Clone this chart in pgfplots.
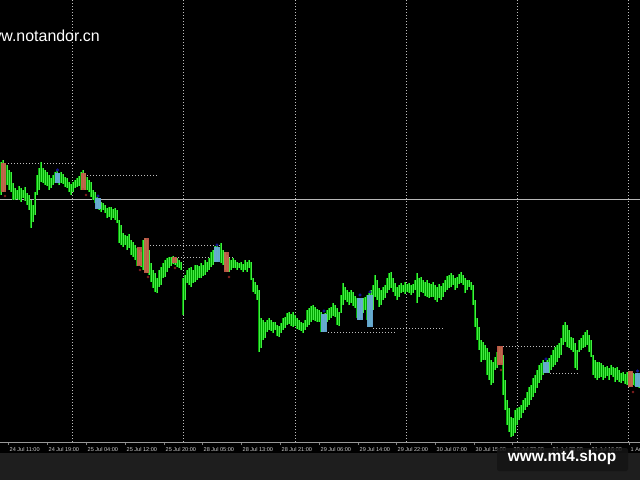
\documentclass[border=0pt]{standalone}
\usepackage{pgfplots}
\usepackage{pgfplotstable}
\pgfplotsset{compat=1.18}
\usepackage{fontspec}
\setmainfont{Liberation Sans}
\definecolor{cgreen}{RGB}{0,165,0}
\definecolor{clight}{RGB}{70,235,70}
\definecolor{cred}{RGB}{205,92,78}
\definecolor{cblue}{RGB}{105,170,215}
\definecolor{cgridc}{RGB}{190,190,190}
\definecolor{cstrip}{RGB}{30,30,30}
\pgfplotstableread{
x a b
1 162 195
3 160 192
5 163 190
7 165 185
9 170 190
11 172 192
13 183 200
15 188 200
17 190 199
19 186 200
21 188 202
23 190 198
25 187 201
27 193 205
29 195 210
31 200 228
33 205 222
35 192 215
37 175 195
39 168 190
41 162 182
43 168 183
45 170 185
47 172 186
49 175 190
51 178 188
53 175 185
55 172 183
57 170 180
59 173 185
61 172 183
63 174 184
65 177 187
67 178 188
69 182 192
71 184 195
73 182 192
75 180 188
77 178 187
79 176 186
81 172 190
83 170 188
85 173 190
87 177 190
89 180 192
91 182 197
93 190 200
95 192 203
97 197 208
99 198 210
101 202 212
103 203 210
105 205 213
107 208 218
109 207 217
111 207 220
113 209 218
115 208 220
117 210 223
119 220 243
121 225 245
123 233 247
125 235 245
127 236 250
129 234 248
131 240 255
133 242 257
135 245 260
137 248 266
139 250 265
141 252 267
143 240 270
145 238 272
147 240 273
149 250 275
151 263 282
153 270 288
155 273 292
157 278 293
159 270 287
161 267 285
163 263 278
165 260 277
167 258 272
169 257 268
171 257 266
173 256 264
175 258 265
177 258 267
179 260 268
181 262 270
183 278 315
185 275 300
187 270 283
189 268 285
191 267 287
193 270 283
195 265 282
197 265 280
199 266 278
201 263 278
203 265 276
205 260 275
207 262 272
209 258 270
211 252 267
213 250 265
215 246 262
217 245 262
219 247 260
221 243 263
223 250 265
225 252 270
227 255 272
229 258 272
231 260 270
233 258 268
235 260 268
237 262 270
239 263 268
241 262 270
243 264 272
245 260 270
247 262 272
249 260 268
251 262 280
253 278 292
255 282 294
257 285 300
259 290 352
261 318 348
263 320 340
265 322 338
267 320 332
269 318 330
271 320 331
273 322 333
275 322 330
277 325 336
279 326 337
281 323 333
283 318 330
285 317 328
287 313 325
289 312 324
291 314 326
293 312 327
295 315 326
297 318 329
299 320 330
301 322 331
303 323 333
305 320 330
307 310 327
309 308 325
311 306 322
313 305 320
315 307 321
317 309 322
319 310 322
321 312 332
323 314 332
325 313 330
327 310 322
329 308 320
331 307 318
333 303 316
335 305 317
337 308 325
339 312 326
341 295 313
343 283 305
345 287 300
347 290 302
349 292 305
351 290 303
353 292 306
355 296 308
357 298 318
359 298 320
361 300 318
363 298 313
365 297 310
367 295 320
369 293 327
371 290 325
373 285 310
375 275 297
377 280 300
379 288 307
381 290 305
383 287 300
385 285 298
387 278 293
389 273 290
391 272 288
393 278 292
395 283 296
397 287 300
399 285 297
401 283 293
403 285 292
405 282 294
407 284 292
409 283 293
411 285 295
413 284 293
415 280 290
417 273 303
419 278 297
421 277 292
423 280 293
425 282 296
427 280 297
429 283 298
431 284 297
433 282 297
435 285 300
437 287 302
439 284 298
441 286 300
443 283 297
445 280 292
447 276 290
449 275 288
451 273 287
453 275 285
455 278 290
457 277 288
459 274 284
461 272 283
463 275 285
465 278 293
467 280 290
469 280 287
471 282 290
473 285 305
475 300 327
477 318 340
479 327 350
481 340 362
483 342 360
485 345 360
487 348 375
489 352 380
491 360 385
493 362 383
495 357 370
497 352 368
499 346 365
501 347 363
503 355 395
505 380 410
507 400 425
509 408 432
511 417 437
513 418 436
515 410 433
517 408 425
519 407 420
521 405 418
523 400 413
525 398 410
527 392 407
529 387 405
531 385 400
533 378 397
535 375 393
537 370 388
539 365 383
541 363 380
543 360 375
545 362 373
547 360 372
549 358 373
551 355 370
553 350 367
555 347 365
557 345 362
559 343 358
561 338 355
563 325 345
565 322 342
567 325 347
569 330 348
571 337 350
573 338 352
575 343 368
577 350 370
579 340 352
581 338 350
583 335 348
585 332 347
587 330 345
589 335 352
591 340 357
593 355 375
595 360 378
597 362 380
599 362 378
601 363 377
603 365 380
605 367 378
607 366 376
609 368 380
611 365 375
613 367 377
615 368 382
617 367 380
619 370 382
621 373 383
623 372 381
625 374 384
627 372 385
629 371 387
631 372 386
633 373 385
635 374 386
637 373 387
639 375 388
}\pricedata
\pgfplotstableread{
x a b
3.5 163 192
83.5 173 190
139.5 247 266
146.5 238 273
174.5 257 263
226.5 252 272
500 346 365
630.5 371 387
}\reddata
\pgfplotstableread{
x a b
57.5 173 183
98 198 209
217 247 262
324 314 332
360 298 320
370 295 327
546 362 373
637.5 373 387
}\bluedata
\begin{document}
\begin{tikzpicture}
\useasboundingbox (0,-38bp) rectangle (640bp,442bp);
\fill[black] (0,-11bp) rectangle (640bp,442bp);
\fill[cstrip] (0,-38bp) rectangle (640bp,-11bp);
\begin{axis}[
  at={(0,0)}, anchor=south west,
  scale only axis, width=640bp, height=442bp,
  xmin=0, xmax=640, ymin=0, ymax=442,
  axis line style={draw=none},
  ytick=\empty,
  xtick={8,47,86,125,164,202,241,280,319,358,396,435,474,512,551,590,629},
  xticklabels={24 Jul 11:00,24 Jul 19:00,25 Jul 04:00,25 Jul 12:00,25 Jul 20:00,28 Jul 05:00,28 Jul 13:00,28 Jul 21:00,29 Jul 06:00,29 Jul 14:00,29 Jul 22:00,30 Jul 07:00,30 Jul 15:00,30 Jul 23:00,31 Jul 08:00,31 Jul 16:00,1 Aug 00:00},
  xtick pos=left, tick align=outside, major tick length=3bp,
  xtick style={draw=gray, line width=0.6bp},
  xticklabel style={anchor=north west, inner sep=0pt, xshift=1.5bp, yshift=-2bp, font=\fontsize{5.6}{6}\selectfont, text=white!80!black},
  clip=true,
]
% grid
\foreach \gx in {72,183,295,406,517,628}{
  \edef\tmp{\noexpand\draw[cgridc, line width=0.8bp, dash pattern=on 1bp off 2bp] (axis cs:\gx,0) -- (axis cs:\gx,442);}\tmp
}
\draw[white!72!black, line width=0.9bp] (axis cs:0,243) -- (axis cs:640,243);
% level lines
\addplot[cgridc, line width=0.8bp, dash pattern=on 1bp off 2bp] coordinates {(5,279) (77,279)};
\addplot[cgridc, line width=0.8bp, dash pattern=on 1bp off 2bp] coordinates {(87,267) (157,267)};
\addplot[cgridc, line width=0.8bp, dash pattern=on 1bp off 2bp] coordinates {(150,197) (220,197)};
\addplot[cgridc, line width=0.8bp, dash pattern=on 1bp off 2bp] coordinates {(175,185) (235,185)};
\addplot[cgridc, line width=0.8bp, dash pattern=on 1bp off 2bp] coordinates {(328,110) (397,110)};
\addplot[cgridc, line width=0.8bp, dash pattern=on 1bp off 2bp] coordinates {(373,114) (443,114)};
\addplot[cgridc, line width=0.8bp, dash pattern=on 1bp off 2bp] coordinates {(503,96) (560,96)};
\addplot[cgridc, line width=0.8bp, dash pattern=on 1bp off 2bp] coordinates {(550,69) (578,69)};
% candles
\addplot[draw=none, mark=none, error bars/.cd, y dir=both, y explicit, error mark=none,
  error bar style={draw=cgreen, line width=1.4bp}]
  table[x=x, y expr={442-(\thisrow{a}+\thisrow{b})/2}, y error expr={(\thisrow{b}-\thisrow{a})/2}] {\pricedata};
\addplot[draw=none, mark=none, error bars/.cd, y dir=both, y explicit, error mark=none,
  error bar style={draw=clight, line width=0.5bp}]
  table[x=x, y expr={442-(\thisrow{a}+\thisrow{b})/2}, y error expr={(\thisrow{b}-\thisrow{a})/2}] {\pricedata};
% highlighted candles
\addplot[draw=none, mark=none, error bars/.cd, y dir=both, y explicit, error mark=none,
  error bar style={draw=cred, line width=5.5bp, opacity=0.9}]
  table[x=x, y expr={442-(\thisrow{a}+\thisrow{b})/2}, y error expr={(\thisrow{b}-\thisrow{a})/2}] {\reddata};
\addplot[draw=none, mark=none, error bars/.cd, y dir=both, y explicit, error mark=none,
  error bar style={draw=cblue, line width=5.5bp, opacity=0.95}]
  table[x=x, y expr={442-(\thisrow{a}+\thisrow{b})/2}, y error expr={(\thisrow{b}-\thisrow{a})/2}] {\bluedata};
\addplot[only marks, mark=*, mark size=1.4bp, color={rgb,255:red,20;green,20;blue,150}] coordinates {(57.5,272) (98,246) (217,197) (324,131) (360,147) (370,150) (546,83) (637.5,71)};
\addplot[only marks, mark=*, mark size=1.1bp, color={rgb,255:red,130;green,30;blue,30}] coordinates {(5,246) (86,247) (140,172) (148,165) (175,174) (229,165) (501,72) (633,50)};
\end{axis}
\draw[cgridc!80!black, line width=0.8bp] (0,0) -- (640bp,0);
\node[anchor=base east, inner sep=0pt, text=white, font=\fontsize{16}{18}\selectfont] at (100bp,400bp) {www.notandor.cn};
\fill[black!92!white, opacity=0.85, rounded corners=2bp] (497bp,-6bp) rectangle (628bp,-29bp);
\node[text=white, font=\bfseries\fontsize{15.5}{17}\selectfont, inner sep=0pt] at (562bp,-15.5bp) {www.mt4.shop};
\end{tikzpicture}
\end{document}
